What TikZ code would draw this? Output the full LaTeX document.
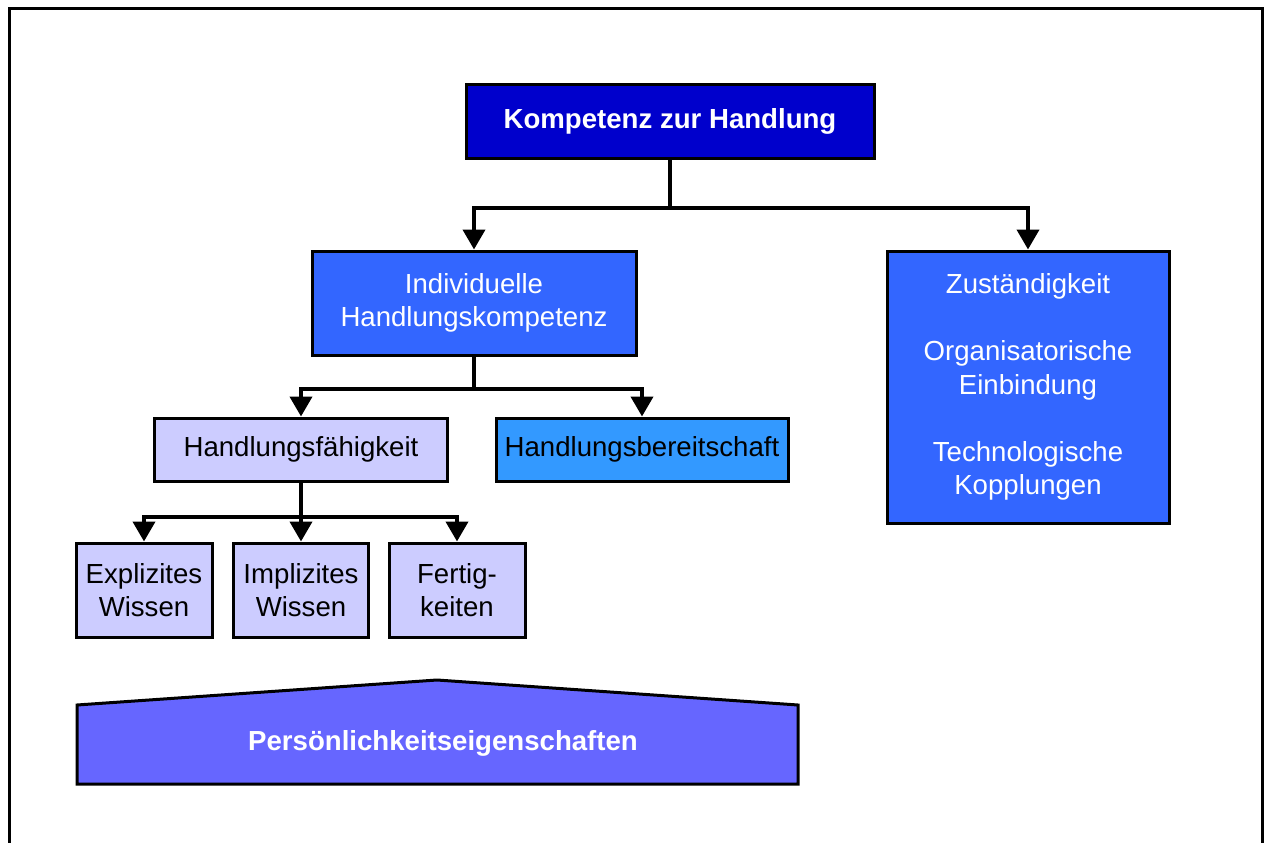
\documentclass[tikz,border=0pt]{standalone}
\usepackage{fontspec}
\setmainfont{Liberation Sans}
\usetikzlibrary{arrows.meta}
\definecolor{cdark}{HTML}{0000CC}
\definecolor{cmid}{HTML}{3366FF}
\definecolor{clight}{HTML}{CCCCFF}
\definecolor{csky}{HTML}{3399FF}
\definecolor{cviolet}{HTML}{6666FF}
\tikzset{
  box/.style={draw=black, line width=3pt, inner sep=0pt, align=center,
    font=\fontsize{27.6}{33.5}\selectfont},
  conn/.style={line width=4pt, -{Triangle[width=22pt,length=20pt]}},
}
\begin{document}
\begin{tikzpicture}[x=1pt,y=-1pt]
\useasboundingbox (0,0) rectangle (1264,843);
% outer frame, open at the bottom
\draw[line width=3pt] (9,843) -- (9,9) -- (1262,9) -- (1262,843);

% boxes
\node[box, fill=cdark, text=white, font=\fontsize{27.6}{33.5}\selectfont\bfseries,
  minimum width=408pt, minimum height=73pt] (top) at (670,121.5) {Kompetenz zur Handlung};
\node[box, fill=cmid, text=white, minimum width=324pt, minimum height=104pt]
  (ind) at (474,303) {Individuelle\\Handlungskompetenz};
\node[box, fill=cmid, text=white, minimum width=282pt, minimum height=272pt]
  (zus) at (1028,387) {Zuständigkeit\\[33.5pt]Organisatorische\\Einbindung\\[33.5pt]Technologische\\Kopplungen};
\node[box, fill=clight, minimum width=293pt, minimum height=63pt]
  (hf) at (301,449.5) {Handlungsfähigkeit};
\node[box, fill=csky, minimum width=292pt, minimum height=63pt]
  (hb) at (642,449.5) {Handlungsbereitschaft};
\node[box, fill=clight, minimum width=136pt, minimum height=94pt]
  (ew) at (144,590) {Explizites\\Wissen};
\node[box, fill=clight, minimum width=135pt, minimum height=94pt]
  (iw) at (301,590) {Implizites\\Wissen};
\node[box, fill=clight, minimum width=136pt, minimum height=94pt]
  (fk) at (457,590) {Fertig-\\keiten};

% base pentagon
\draw[line width=3pt, fill=cviolet, line join=miter]
  (77,784) -- (77,705) -- (437,680) -- (798,705) -- (798,784) -- cycle;
\node[font=\fontsize{27.6}{33.5}\selectfont\bfseries, text=white]
  (pe) at (443,743) {Persönlichkeitseigenschaften};

% connectors
\path (top.south) ++(0,48) coordinate (j1);
\draw[conn] (top.south) -- (j1) -| (ind.north);
\draw[conn] (j1) -| (zus.north);

\path (ind.south) ++(0,32) coordinate (j2);
\draw[conn] (ind.south) -- (j2) -| (hf.north);
\draw[conn] (j2) -| (hb.north);

\path (hf.south) ++(0,34) coordinate (j3);
\draw[conn] (hf.south) -- (iw.north);
\draw[conn] (j3) -| (ew.north);
\draw[conn] (j3) -| (fk.north);
\end{tikzpicture}
\end{document}
